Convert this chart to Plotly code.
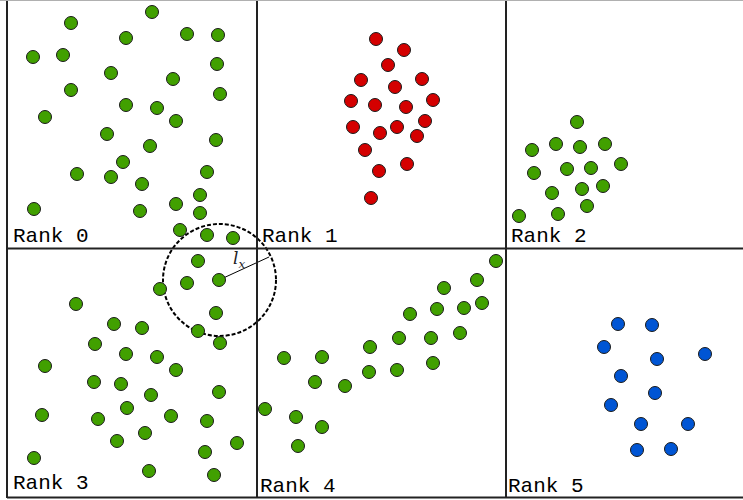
import plotly.graph_objects as go

# ---- data (positions in chart units; y grows downward) ----
rank0_x = [152, 71, 126, 187, 218, 33, 63, 217, 111, 173, 71, 220, 126, 157, 45, 176, 107, 216, 150, 123, 77, 111, 142, 207, 200, 34, 140, 176, 200, 180, 207, 233]
rank0_y = [12, 23, 38, 34, 35, 57, 55, 64, 73, 79, 90, 94, 105, 108, 117, 121, 134, 140, 146, 162, 174, 177, 184, 172, 195, 209, 211, 204, 213, 230, 235, 238]

rank1_x = [376, 404, 388, 361, 422, 395, 351, 433, 375, 406, 353, 425, 397, 380, 417, 365, 407, 379, 371]
rank1_y = [39, 50, 65, 80, 79, 87, 101, 100, 105, 107, 127, 121, 127, 133, 136, 150, 164, 171, 198]

rank2_x = [577, 532, 556, 580, 605, 534, 567, 591, 621, 552, 582, 603, 519, 558, 587]
rank2_y = [122, 150, 144, 147, 144, 173, 169, 168, 164, 193, 189, 186, 216, 214, 206]

rank3_x = [198, 187, 219, 160, 76, 216, 114, 142, 198, 220, 95, 126, 157, 45, 176, 94, 121, 151, 219, 127, 42, 98, 171, 207, 117, 145, 237, 205, 34, 149, 214]
rank3_y = [261, 283, 280, 289, 304, 313, 324, 328, 331, 343, 344, 354, 357, 366, 370, 382, 384, 395, 392, 408, 415, 419, 416, 421, 441, 433, 443, 452, 458, 471, 475]

rank4_x = [496, 477, 444, 437, 464, 482, 410, 399, 431, 460, 370, 284, 322, 433, 369, 397, 315, 345, 265, 296, 322, 298]
rank4_y = [261, 280, 288, 309, 308, 303, 314, 338, 338, 333, 347, 358, 357, 363, 372, 370, 382, 386, 409, 417, 427, 446]

rank5_x = [618, 652, 604, 657, 705, 621, 655, 611, 641, 688, 637, 671]
rank5_y = [324, 325, 347, 359, 354, 376, 393, 405, 424, 424, 450, 449]

rank_labels = ["Rank 0", "Rank 1", "Rank 2", "Rank 3", "Rank 4", "Rank 5"]
label_x = [11, 260, 509, 11, 258, 506]
label_y = [236, 236, 236, 483, 486, 486]

GREEN = "#41a000"
RED = "#d40000"
BLUE = "#0055d4"

series = [
    (rank0_x, rank0_y, GREEN),
    (rank1_x, rank1_y, RED),
    (rank2_x, rank2_y, GREEN),
    (rank3_x, rank3_y, GREEN),
    (rank4_x, rank4_y, GREEN),
    (rank5_x, rank5_y, BLUE),
]

fig = go.Figure()

# circle and radius (drawn below points)
shapes = [
    dict(type="circle", xref="x", yref="y", x0=219.5 - 56.5, x1=219.5 + 56.5,
         y0=280 - 56, y1=280 + 56, line=dict(color="black", width=2, dash="4px,2px"),
         layer="below"),
    dict(type="line", xref="x", yref="y", x0=219, y0=280, x1=269, y1=257,
         line=dict(color="black", width=1), layer="below"),
]
# grid frame
frame_color = "#222222"
for vx in [7, 257, 506]:
    shapes.append(dict(type="line", xref="x", yref="y", x0=vx, x1=vx, y0=0, y1=498,
                       line=dict(color=frame_color, width=2), layer="below"))
shapes.append(dict(type="line", xref="x", yref="y", x0=7, x1=750, y0=248.5, y1=248.5,
                   line=dict(color=frame_color, width=2), layer="below"))
shapes.append(dict(type="line", xref="x", yref="y", x0=7, x1=750, y0=497.5, y1=497.5,
                   line=dict(color=frame_color, width=2), layer="below"))
shapes.append(dict(type="line", xref="x", yref="y", x0=0, x1=750, y0=0.5, y1=0.5,
                   line=dict(color="#b0b0b0", width=1), layer="below"))

for xs, ys, col in series:
    fig.add_trace(go.Scatter(
        x=xs, y=ys, mode="markers",
        marker=dict(size=13, color=col, line=dict(color="#1a1a1a", width=1)),
        hoverinfo="skip", showlegend=False,
    ))

annotations = []
for t, lx, ly in zip(rank_labels, label_x, label_y):
    annotations.append(dict(x=lx, y=ly, xref="x", yref="y", text=t, showarrow=False,
                            xanchor="left", yanchor="middle",
                            font=dict(family="Courier New, Liberation Mono, monospace",
                                      size=21, color="black")))
annotations.append(dict(x=239, y=259, xref="x", yref="y",
                        text="<i>l</i><sub><i>x</i></sub>", showarrow=False,
                        xanchor="center", yanchor="middle",
                        font=dict(family="DejaVu Serif, Liberation Serif, serif",
                                  size=17, color="#222222")))

fig.update_layout(
    width=743, height=500,
    margin=dict(l=0, r=0, t=0, b=0),
    paper_bgcolor="white", plot_bgcolor="white",
    xaxis=dict(range=[0, 743], visible=False, fixedrange=True),
    yaxis=dict(range=[500, 0], visible=False, fixedrange=True),
    shapes=shapes, annotations=annotations,
)

fig.write_html("out.html",
               config={"displayModeBar": False, "staticPlot": True},
               post_script="document.body.style.margin='0';document.body.style.overflow='hidden';")
